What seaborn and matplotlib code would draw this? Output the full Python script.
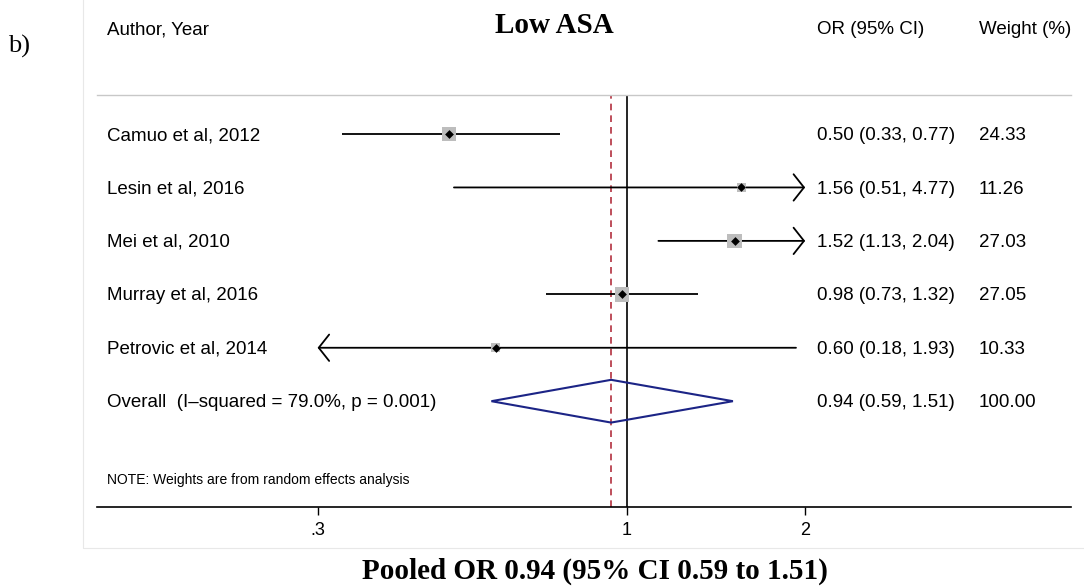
import numpy as np
import pandas as pd
import seaborn as sns
import matplotlib.pyplot as plt
from matplotlib import transforms
from matplotlib.patches import Rectangle

# ---------------- Data ----------------
studies = ["Camuo et al, 2012", "Lesin et al, 2016", "Mei et al, 2010",
           "Murray et al, 2016", "Petrovic et al, 2014"]
odds = [0.50, 1.56, 1.52, 0.98, 0.60]
lower = [0.33, 0.51, 1.13, 0.73, 0.18]
upper = [0.77, 4.77, 2.04, 1.32, 1.93]
weights = [24.33, 11.26, 27.03, 27.05, 10.33]

pooled_or = 0.94
pooled_lo = 0.59
pooled_hi = 1.51
pooled_weight = 100.00
overall_label = "Overall  (I\u2013squared = 79.0%, p = 0.001)"

x_ticks = [0.3, 1, 2]
x_tick_labels = [".3", "1", "2"]
clip_lo, clip_hi = 0.3, 2.0

df = pd.DataFrame({"study": studies, "or": odds, "lo": lower, "hi": upper, "w": weights})
df["row"] = np.arange(len(df))
overall_row = len(df)

# ---------------- Figure ----------------
sns.set_style("white")
plt.rcParams["font.family"] = ["Liberation Sans", "DejaVu Sans"]
plt.rcParams["text.color"] = "black"
plt.rcParams["xtick.color"] = "black"
plt.rcParams["xtick.labelcolor"] = "black"

W, H = 1084, 588
fig = plt.figure(figsize=(W / 100, H / 100), dpi=100)
ax = fig.add_axes([97 / W, 1 - 507 / H, (1071 - 97) / W, (507 - 95) / H])
ax.set_xscale("log")
ax.set_xlim(np.exp((97 - 627) / 257), np.exp((1071 - 627) / 257))
ax.set_ylim(6.98, -0.73)

# faint graph region border
fig.patches.append(Rectangle((83 / W, 1 - 548 / H), 1.1, 1.1, transform=fig.transFigure,
                             fill=False, edgecolor="#e8e8e8", lw=0.8, zorder=0))

# reference lines
ax.axvline(1, color="black", lw=1.2, zorder=1)
ax.axvline(pooled_or, color="#b3303e", lw=1.2, ls=(0, (4, 3)), zorder=1)

# confidence intervals (clipped with arrows)
style = "->,head_length=0.75,head_width=0.95"
for _, r in df.iterrows():
    lo = max(r["lo"], clip_lo)
    hi = min(r["hi"], clip_hi)
    if r["lo"] < clip_lo:
        ax.annotate("", xy=(lo, r["row"]), xytext=(hi, r["row"]),
                    arrowprops=dict(arrowstyle=style, lw=1.3, color="black",
                                    shrinkA=0, shrinkB=0))
    elif r["hi"] > clip_hi:
        ax.annotate("", xy=(hi, r["row"]), xytext=(lo, r["row"]),
                    arrowprops=dict(arrowstyle=style, lw=1.3, color="black",
                                    shrinkA=0, shrinkB=0))
    else:
        ax.hlines(r["row"], lo, hi, color="black", lw=1.3, zorder=2)

# weight squares and point estimates
sns.scatterplot(data=df, x="or", y="row", marker="s", s=df["w"] * 4.0,
                color="#bdbdbd", linewidth=0, ax=ax, zorder=3, legend=False)
sns.scatterplot(data=df, x="or", y="row", marker="D", s=20,
                color="black", linewidth=0, ax=ax, zorder=4, legend=False)

# overall diamond
ax.fill([pooled_lo, pooled_or, pooled_hi, pooled_or],
        [overall_row, overall_row - 0.4, overall_row, overall_row + 0.4],
        fill=False, edgecolor="#1c2486", lw=1.5, zorder=3)

# axes styling
for side in ["left", "right"]:
    ax.spines[side].set_visible(False)
ax.spines["top"].set_color("#c8c8c8")
ax.spines["top"].set_linewidth(1.0)
ax.spines["bottom"].set_color("black")
ax.spines["bottom"].set_linewidth(1.2)
ax.minorticks_off()
ax.set_xticks(x_ticks)
ax.set_xticklabels(x_tick_labels)
ax.set_yticks([])
ax.tick_params(axis="x", direction="out", length=6, width=1, color="black",
               labelcolor="black", labelsize=13, pad=5, bottom=True)
ax.set_xlabel("")
ax.set_ylabel("")

# text columns
trans = transforms.blended_transform_factory(fig.transFigure, ax.transData)
fs = 13.5
dy = 0.03
for _, r in df.iterrows():
    y = r["row"] + dy
    ax.text(107 / W, y, r["study"], transform=trans, fontsize=fs, va="center")
    ax.text(817 / W, y, f"{r['or']:.2f} ({r['lo']:.2f}, {r['hi']:.2f})",
            transform=trans, fontsize=fs, va="center")
    ax.text(979 / W, y, f"{r['w']:.2f}", transform=trans, fontsize=fs, va="center")
ax.text(107 / W, overall_row + dy, overall_label, transform=trans, fontsize=fs, va="center")
ax.text(817 / W, overall_row + dy, f"{pooled_or:.2f} ({pooled_lo:.2f}, {pooled_hi:.2f})",
        transform=trans, fontsize=fs, va="center")
ax.text(979 / W, overall_row + dy, f"{pooled_weight:.2f}", transform=trans,
        fontsize=fs, va="center")
ax.text(107 / W, 6.48, "NOTE: Weights are from random effects analysis",
        transform=trans, fontsize=10, va="center")

# headers
fig.text(107 / W, 1 - 30 / H, "Author, Year", fontsize=fs, va="center")
fig.text(817 / W, 1 - 30 / H, "OR (95% CI)", fontsize=fs, va="center")
fig.text(979 / W, 1 - 30 / H, "Weight (%)", fontsize=fs, va="center")
fig.text(554 / W, 1 - 33 / H, "Low ASA", fontsize=21, fontweight="bold",
         family=["Liberation Serif", "DejaVu Serif"], ha="center", va="baseline")
fig.text(8 / W, 1 - 53 / H, "b)", fontsize=19,
         family=["Liberation Serif", "DejaVu Serif"], ha="left", va="baseline")
fig.text(595 / W, 1 - 579 / H,
         f"Pooled OR {pooled_or:.2f} (95% CI {pooled_lo:.2f} to {pooled_hi:.2f})",
         fontsize=21, fontweight="bold", family=["Liberation Serif", "DejaVu Serif"],
         ha="center", va="baseline")

fig.savefig("out.png", dpi=100)
